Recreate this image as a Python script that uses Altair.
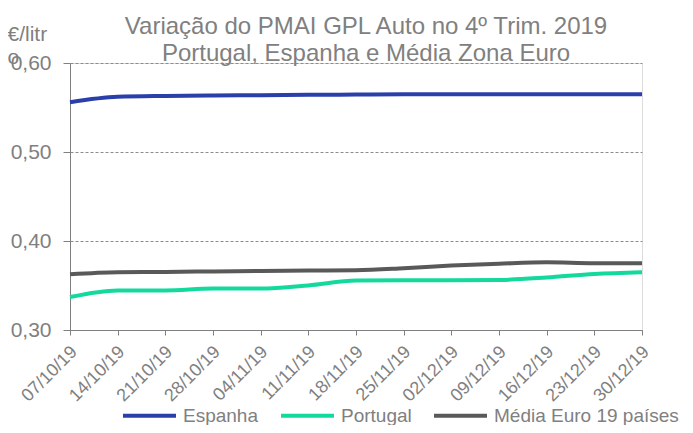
import altair as alt
import pandas as pd

dates = ["07/10/19", "14/10/19", "21/10/19", "28/10/19", "04/11/19", "11/11/19",
         "18/11/19", "25/11/19", "02/12/19", "09/12/19", "16/12/19", "23/12/19", "30/12/19"]
espanha = [0.556, 0.562, 0.563, 0.5635, 0.5638, 0.5642, 0.5645, 0.5648, 0.565, 0.565, 0.565, 0.565, 0.565]
portugal = [0.337, 0.3445, 0.3445, 0.3465, 0.3465, 0.350, 0.3555, 0.3558, 0.3558, 0.3562, 0.359, 0.363, 0.365]
media = [0.3627, 0.365, 0.3653, 0.3658, 0.3663, 0.3668, 0.3672, 0.3695, 0.3725, 0.3745, 0.376, 0.375, 0.375]
series = ["Espanha", "Portugal", "Média Euro 19 países"]
colors = ["#2b3faa", "#14d99d", "#595959"]

rows = []
for name, vals in zip(series, [espanha, portugal, media]):
    for i, (d, v) in enumerate(zip(dates, vals)):
        rows.append({"data": d, "valor": v, "serie": name, "ord": i})
df = pd.DataFrame(rows)

FONT = "Liberation Sans"
GRAY = "#808080"

chart = alt.Chart(df).mark_line(strokeWidth=4, interpolate="monotone").encode(
    x=alt.X("data:O", sort=dates,
            scale=alt.Scale(type="point", padding=0),
            axis=alt.Axis(title=None, labelAngle=-45, labelAlign="right", labelBaseline="middle",
                          labelFontSize=18, labelColor=GRAY, labelFont=FONT, labelPadding=14,
                          labelOffset=4,
                          domainColor=GRAY, tickColor=GRAY, tickSize=5, grid=False, labelOverlap=False)),
    y=alt.Y("valor:Q", scale=alt.Scale(domain=[0.30, 0.60], nice=False, zero=False),
            axis=alt.Axis(values=[0.30, 0.40, 0.50, 0.60],
                          labelExpr="replace(format(datum.value, '.2f'), '.', ',')",
                          labelFontSize=21, labelColor=GRAY, labelFont=FONT, labelPadding=12,
                          domainColor=GRAY, tickColor=GRAY, tickSize=7,
                          grid=True, gridColor="#8c8c8c", gridDash=[3, 2], gridWidth=1,
                          title=["€/litr", "o"], titleAngle=0, titleAlign="left",
                          titleBaseline="alphabetic",
                          titleX=-63, titleY=-23, titleFontSize=21, titleColor=GRAY, titleFont=FONT,
                          titleFontWeight="normal", titleLineHeight=23)),
    color=alt.Color("serie:N", sort=series,
                    scale=alt.Scale(domain=series, range=colors),
                    legend=alt.Legend(title=None, orient="none", legendX=51, legendY=324,
                                      direction="horizontal", symbolType="stroke",
                                      symbolStrokeWidth=4, symbolSize=2809, padding=0,
                                      labelFontSize=19, labelColor=GRAY, labelFont=FONT,
                                      labelOffset=5, columnPadding=14, labelLimit=400)),
    order="ord:Q",
).properties(
    width=572, height=267,
    title=alt.TitleParams(["Variação do PMAI GPL Auto no 4º Trim. 2019",
                           "Portugal, Espanha e Média Zona Euro"],
                          fontSize=24, color=GRAY, font=FONT, fontWeight="normal",
                          anchor="middle", offset=4, lineHeight=27, dx=10, dy=66,
                          baseline="alphabetic"),
    autosize=alt.AutoSizeParams(type="none"),
    padding={"left": 62, "top": 55, "right": 43, "bottom": 95},
).configure_view(fill="#f2f2f2", stroke=None).configure(background="white")

chart.save("out.html", embed_options={"renderer": "svg", "actions": False})
